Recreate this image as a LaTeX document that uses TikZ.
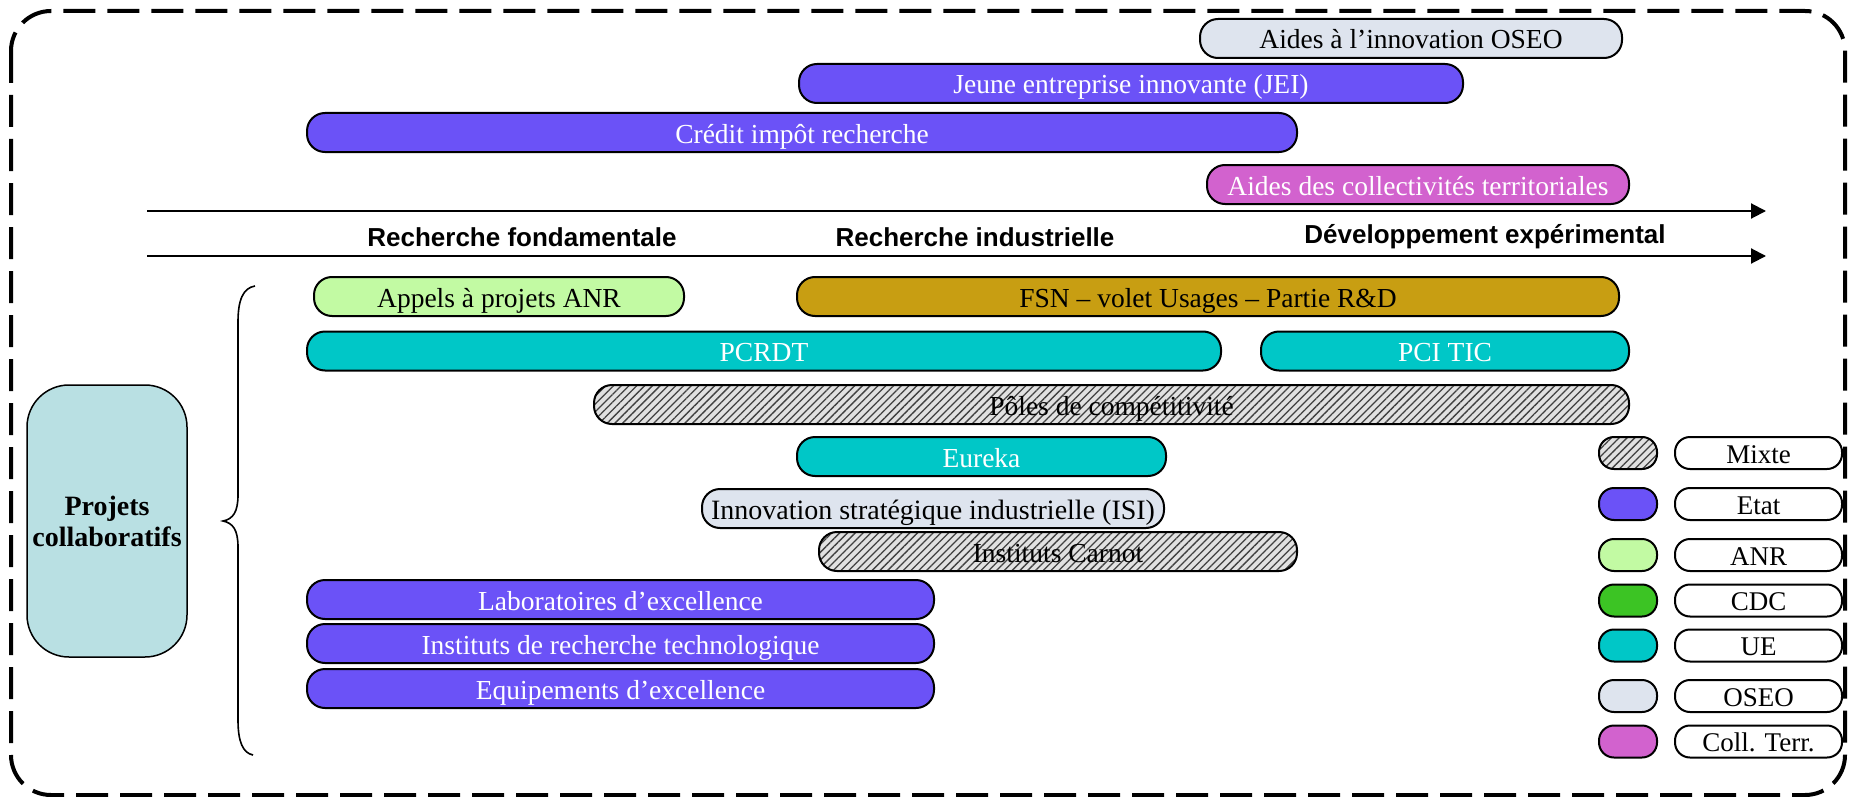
\documentclass[tikz,border=0pt]{standalone}
\usepackage{fontspec}
\setmainfont{Liberation Serif}
\newfontfamily\hdfont{Liberation Sans}
\usetikzlibrary{arrows.meta,patterns.meta}
\definecolor{etat}{RGB}{107,82,247}
\definecolor{anrc}{RGB}{194,250,163}
\definecolor{cdc}{RGB}{60,196,36}
\definecolor{ue}{RGB}{0,199,199}
\definecolor{oseo}{RGB}{222,228,238}
\definecolor{coll}{RGB}{210,98,206}
\definecolor{fsn}{RGB}{200,158,18}
\definecolor{projc}{RGB}{185,224,227}
\definecolor{hatchbg}{RGB}{225,225,225}
\begin{document}
\begin{tikzpicture}[x=1pt,y=-1pt,
  bar/.style={draw=black, line width=2pt, rounded corners=18pt, minimum height=39pt,
    inner sep=0pt, text height=26pt, text depth=5pt, font=\fontsize{27.5}{33}\selectfont, text=black},
  mixte/.style={preaction={fill=hatchbg},
    pattern={Lines[angle=45,distance=5.5pt,line width=1.3pt]}, pattern color=black!75},
  swatch/.style={draw=black, line width=2pt, rounded corners=15pt, minimum width=58pt,
    minimum height=32pt, inner sep=0pt},
  legend/.style={draw=black, line width=2pt, rounded corners=15pt, fill=white, minimum width=167pt,
    minimum height=32pt, inner sep=0pt, text height=25pt, text depth=5pt, font=\fontsize{27}{30}\selectfont},
  head/.style={font=\hdfont\bfseries\fontsize{26}{30}\selectfont, inner sep=0pt},
  axis/.style={line width=2pt, -{Triangle[length=15pt,width=15pt]}}
]
\useasboundingbox (0,0) rectangle (1849,797);
% outer frame
\draw[line width=4pt, dash pattern=on 32pt off 12pt, rounded corners=40pt] (11,11) rectangle (1845,795);

% top bars
\node[bar, fill=oseo, minimum width=422pt] (oseoA) at (1411,38.5) {Aides à l’innovation OSEO};
\node[bar, fill=etat, text=white, minimum width=664pt] (jei) at (1131,83.5) {Jeune entreprise innovante (JEI)};
\node[bar, fill=etat, text=white, minimum width=990pt] (cir) at (802,132.5) {Crédit impôt recherche};
\node[bar, fill=coll, text=white, minimum width=422pt] (colt) at (1418,184.5) {Aides des collectivités territoriales};

% axes
\coordinate (a1s) at (147,211);
\coordinate (a1e) at (1766,211);
\coordinate (a2s) at (147,256);
\coordinate (a2e) at (1766,256);
\draw[axis] (a1s) -- (a1e);
\draw[axis] (a2s) -- (a2e);
\node[head] (h1) at (522,237) {Recherche fondamentale};
\node[head] (h2) at (975,237) {Recherche industrielle};
\node[head] (h3) at (1485,237) {Développement expérimental};

% lower bars
\node[bar, fill=anrc, minimum width=370pt] (anr) at (499,296.5) {Appels à projets ANR};
\node[bar, fill=fsn, minimum width=822pt] (fsnb) at (1208,296.5) {FSN – volet Usages – Partie R\&D};
\node[bar, fill=ue, text=white, minimum width=914pt] (pcrdt) at (764,351) {PCRDT};
\node[bar, fill=ue, text=white, minimum width=368pt] (pci) at (1445,351) {PCI TIC};
\node[bar, mixte, minimum width=1035pt] (poles) at (1111.5,404.5) {Pôles de compétitivité};
\node[bar, fill=ue, text=white, minimum width=369pt] (eureka) at (981.5,456.5) {Eureka};
\node[bar, fill=oseo, minimum width=462pt, font=\fontsize{28}{33}\selectfont] (isi) at (933,508.5) {Innovation stratégique industrielle (ISI)};
\node[bar, mixte, minimum width=478pt] (carnot) at (1058,551.5) {Instituts Carnot};
\node[bar, fill=etat, text=white, minimum width=627pt] (labo) at (620.5,599.5) {Laboratoires d’excellence};
\node[bar, fill=etat, text=white, minimum width=627pt] (irt) at (620.5,643.5) {Instituts de recherche technologique};
\node[bar, fill=etat, text=white, minimum width=627pt] (equip) at (620.5,688.5) {Equipements d’excellence};

% projets collaboratifs
\node[draw=black, line width=1.5pt, fill=projc, rounded corners=42pt, minimum width=160pt,
  minimum height=272pt, align=center, inner sep=0pt,
  font=\bfseries\fontsize{28}{31}\selectfont] (proj) at (107,521) {Projets\\collaboratifs};

% brace
\coordinate (bt) at (255,286);
\coordinate (bb) at (253,755);
\draw[line width=1.6pt] (bt) .. controls (243,288) and (238,300) .. (238,322) -- (238,495)
  .. controls (238,512) and (233,519) .. (223,521)
  .. controls (233,523) and (238,530) .. (238,547) -- (238,720)
  .. controls (238,742) and (243,753) .. (bb);

% legend
\node[swatch, mixte] (s1) at (1628,453) {};
\node[legend] (l1) at (1758.5,453) {Mixte};
\node[swatch, fill=etat] (s2) at (1628,504) {};
\node[legend] (l2) at (1758.5,504) {Etat};
\node[swatch, fill=anrc] (s3) at (1628,555) {};
\node[legend] (l3) at (1758.5,555) {ANR};
\node[swatch, fill=cdc] (s4) at (1628,600.5) {};
\node[legend] (l4) at (1758.5,600.5) {CDC};
\node[swatch, fill=ue] (s5) at (1628,645.5) {};
\node[legend] (l5) at (1758.5,645.5) {UE};
\node[swatch, fill=oseo] (s6) at (1628,696) {};
\node[legend] (l6) at (1758.5,696) {OSEO};
\node[swatch, fill=coll] (s7) at (1628,741.5) {};
\node[legend] (l7) at (1758.5,741.5) {Coll. Terr.};
\end{tikzpicture}
\end{document}
